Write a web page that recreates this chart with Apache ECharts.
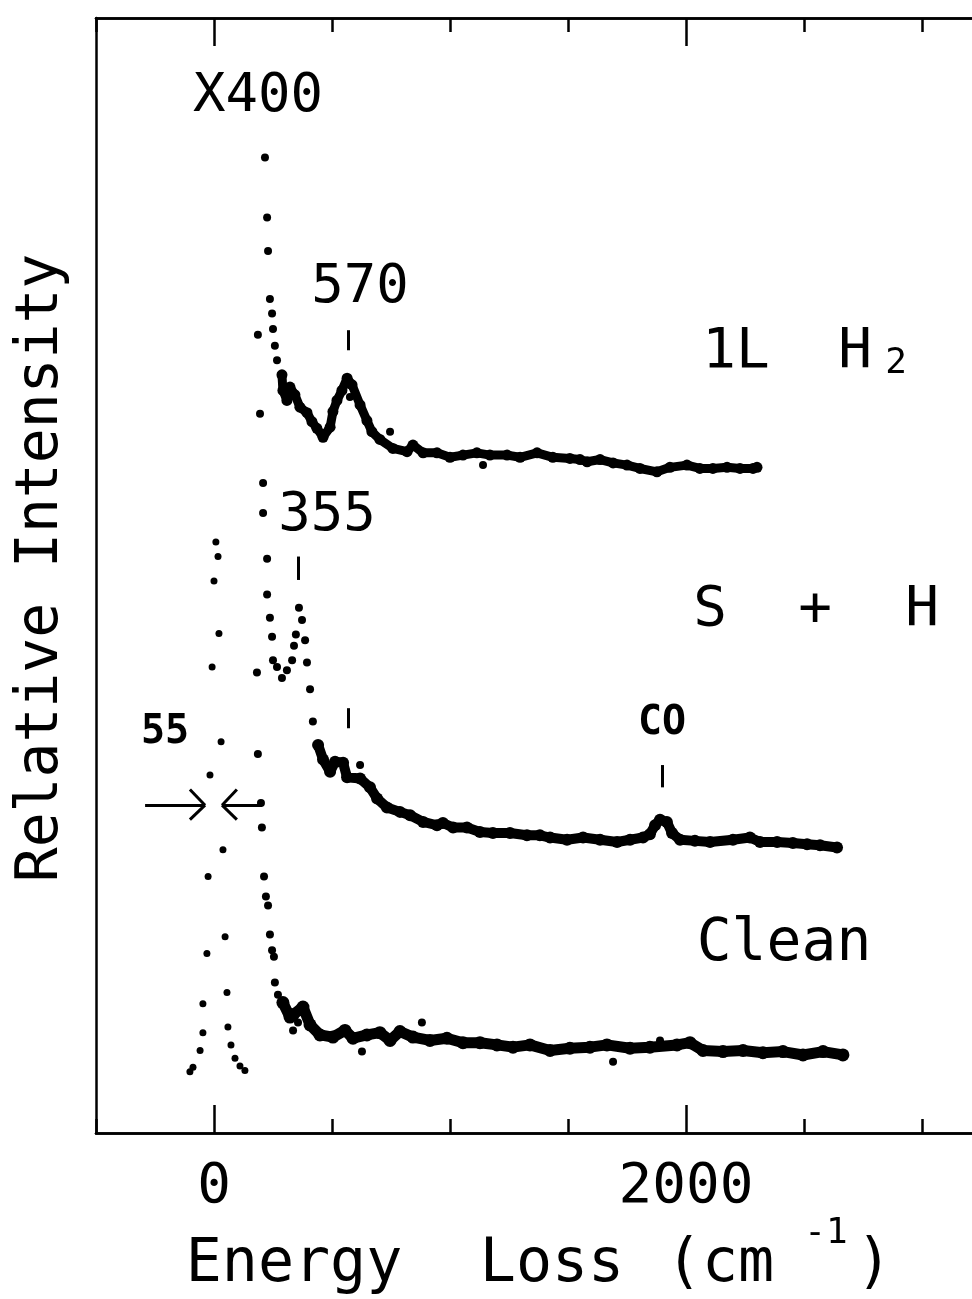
<!DOCTYPE html>
<html><head><meta charset="utf-8">
<script src="https://cdn.jsdelivr.net/npm/echarts@6/dist/echarts.min.js"></script>
<style>html,body{margin:0;padding:0;background:#fff}#c{width:972px;height:1299px}</style>
</head><body><div id="c"></div>
<script>
// ---- axis ticks (cm^-1) ----
const xTickMinor = [-500, 500, 1000, 1500, 2500, 3000];
const xTickMajor = [0, 2000];

// ---- 1L H2 spectrum (x400): [energy loss cm^-1, relative intensity] ----
const h2Tail = [[216,87.5],[225,82.1],[229,79.1],[237,74.8],[246,73.5],[250,72.1],[258,70.6],[267,69.3],[284,68.0]];
const h2Band = [[288,68.0],[292,66.6],[309,65.7],[322,66.9],[343,66.2],[364,65.1],[394,64.6],[415,63.8],[436,63.2],[462,62.4],[492,63.3],[504,64.7],[521,65.7],[542,66.6],[564,67.7],[585,67.1],[619,65.3],[648,63.9],[669,62.9],[703,62.2],[758,61.4],[818,61.1],[843,61.7],[886,61.0],[945,61.0],[1000,60.6],[1055,60.8],[1114,61.0],[1169,60.8],[1242,60.8],[1297,60.6],[1369,61.0],[1436,60.6],[1508,60.5],[1551,60.4],[1581,60.2],[1636,60.4],[1691,60.1],[1750,59.9],[1805,59.6],[1877,59.3],[1932,59.7],[2004,59.9],[2059,59.6],[2114,59.6],[2174,59.7],[2229,59.6],[2284,59.6],[2301,59.7]];
const h2Extra = [[576,66.0],[746,62.9],[1140,59.9]];

// ---- S + H spectrum ----
const shTail = [[186,71.6],[195,64.5],[208,58.3],[208,55.6],[225,51.5],[225,48.3],[237,46.2],[246,44.5],[250,42.4],[267,41.8],[288,40.8],[309,41.5],[331,42.4],[339,43.7],[347,44.7],[360,47.1],[373,46.0],[386,44.2],[394,42.2],[407,39.8],[419,36.9]];
const shBand = [[441,34.8],[462,33.5],[492,32.4],[513,33.3],[547,33.2],[564,31.9],[619,31.8],[661,31.0],[691,30.0],[733,29.2],[788,28.8],[831,28.5],[886,27.9],[945,27.6],[970,27.8],[1013,27.4],[1072,27.4],[1127,27.0],[1182,26.9],[1254,26.9],[1326,26.7],[1381,26.7],[1424,26.5],[1496,26.3],[1564,26.5],[1636,26.3],[1708,26.1],[1763,26.3],[1818,26.5],[1847,26.8],[1869,27.6],[1890,28.1],[1919,27.9],[1941,26.9],[1975,26.3],[2038,26.2],[2102,26.1],[2199,26.3],[2271,26.5],[2314,26.1],[2386,26.1],[2453,26.0],[2513,25.9],[2568,25.8],[2640,25.6]];
const shExtra = [[619,33.0]];

// ---- Clean spectrum (elastic peak + loss) ----
const cleanPeak = [[-102,5.5],[-89,5.9],[-59,7.4],[-47,9.0],[-47,11.6],[-30,16.1],[-25,23.0],[-17,32.1],[-8,41.8],[0,49.5],[8,53.0],[17,51.7],[21,44.8],[30,35.1],[38,25.4],[47,17.6],[55,12.6],[59,9.5],[72,7.9],[89,6.7],[110,6.0],[131,5.6]];
const cleanTail = [[182,41.3],[186,34.0],[199,29.6],[203,27.4],[212,23.0],[220,21.2],[229,20.4],[237,17.8],[246,16.4],[254,15.8],[258,13.5],[271,12.4],[356,9.9],[386,11.2],[419,9.5]];
const cleanBand = [[292,11.7],[322,10.4],[335,10.6],[377,11.3],[407,9.7],[449,8.8],[504,8.6],[555,9.2],[589,8.5],[648,8.8],[703,9.0],[746,8.3],[788,9.1],[843,8.6],[915,8.3],[987,8.5],[1055,8.1],[1127,8.1],[1199,7.9],[1267,7.7],[1339,7.9],[1424,7.4],[1508,7.6],[1593,7.7],[1665,7.9],[1763,7.6],[1847,7.7],[1962,7.9],[2017,8.1],[2072,7.4],[2157,7.3],[2242,7.4],[2326,7.2],[2411,7.3],[2496,7.0],[2581,7.3],[2665,7.0]];
const cleanExtra = [[335,9.2],[627,7.3],[881,9.9],[1691,6.4],[1890,8.3]];

// ---- peak marker segments [x, yTop, yBottom] ----
const peakMarks = [[570,72.0,70.2],[355,51.7,49.6],[570,38.1,36.3],[1898,33.0,31.0]];

const chart = echarts.init(document.getElementById('c'), null, {renderer:'canvas'});
const BLK = '#000';
const FONT = 'DejaVu Sans Mono';
const AX = {type:'value', min:-500, max:3212, splitLine:{show:false}};
function xAx(pos, ticks, len, labels){
  return Object.assign({}, AX, {
    position: pos,
    axisLine:{show:true, onZero:false, lineStyle:{color:BLK, width:2.5}},
    axisTick:{show:true, inside:true, length:len, customValues:ticks, lineStyle:{color:BLK, width:2.5}},
    axisLabel: labels ? {show:true, customValues:ticks, color:BLK, fontSize:56, fontFamily:FONT, margin:26,
                         formatter:(v)=>String(v)} : {show:false}
  });
}
function dots(data, size){
  return {type:'scatter', data:data, symbol:'circle', symbolSize:size, itemStyle:{color:BLK, opacity:1}, silent:true};
}
function band(data, w){
  return {type:'line', data:data, symbol:'circle', symbolSize:w+2, showSymbol:true, itemStyle:{color:BLK, opacity:1},
    lineStyle:{color:BLK, width:w, cap:'round', join:'round'}, silent:true};
}
const seg = (x1,y1,x2,y2) => [{coord:[x1,y1]},{coord:[x2,y2]}];
const markData = peakMarks.map(m => seg(m[0],m[1],m[0],m[2]));
// FWHM arrows (55 cm^-1)
markData.push(seg(-292,29.4,-38,29.4), seg(-102,30.8,-38,29.4), seg(-38,29.4,-102,28.1));
markData.push(seg(203,29.4,34,29.4), seg(97,30.8,34,29.4), seg(34,29.4,97,28.1));

const txt = (s, x, y, size, extra) => Object.assign({type:'text', x:x, y:y, silent:true,
  style:{text:s, fill:BLK, fontSize:size, fontFamily:FONT, align:'center', verticalAlign:'middle'}}, extra||{});
const btxt = (s, x, y, size) => ({type:'text', x:x, y:y, silent:true,
  style:{text:s, fill:BLK, fontSize:size, fontWeight:'bold', fontFamily:FONT, align:'center', verticalAlign:'middle'}});

chart.setOption({
  animation:false,
  backgroundColor:'#fff',
  grid:{left:96, top:18, right:0, bottom:166},
  xAxis:[xAx('bottom', xTickMinor, 14, false), xAx('bottom', xTickMajor, 28, true),
         xAx('top', xTickMinor, 14, false), xAx('top', xTickMajor, 28, false)],
  yAxis:{type:'value', min:0, max:100, axisLine:{show:true, onZero:false, lineStyle:{color:BLK, width:2.5}},
         axisTick:{show:false}, axisLabel:{show:false}, splitLine:{show:false}},
  series:[
    dots(h2Tail,8), band(h2Band,9), dots(h2Extra,8),
    dots(shTail,8), band(shBand,10), dots(shExtra,8),
    dots(cleanPeak,7), dots(cleanTail,8), band(cleanBand,11), dots(cleanExtra,8),
    {type:'line', data:[], silent:true,
     markLine:{silent:true, symbol:'none', label:{show:false}, animation:false,
       lineStyle:{color:BLK, width:3, type:'solid'}, emphasis:{disabled:true}, data:markData}}
  ],
  graphic:[
    txt('X400', 258, 97, 54),
    txt('570', 360, 288, 54),
    txt('355', 327, 516, 54),
    btxt('55', 165, 733, 40),
    btxt('CO', 662, 724, 40),
    txt('1L', 736, 352, 56),
    txt('H', 855, 352, 56),
    txt('2', 896, 364, 36),
    txt('S', 710, 610, 56),
    txt('+', 815, 610, 56),
    txt('H', 922, 610, 56),
    txt('Clean', 784, 945, 58),
    txt('Relative Intensity', 42, 568, 58, {rotation:Math.PI/2}),
    txt('Energy', 294, 1265, 60),
    txt('Loss', 552, 1265, 60),
    txt('(cm', 720, 1265, 60),
    txt('-1', 826, 1234, 36),
    txt(')', 874, 1265, 60)
  ]
});
</script></body></html>
